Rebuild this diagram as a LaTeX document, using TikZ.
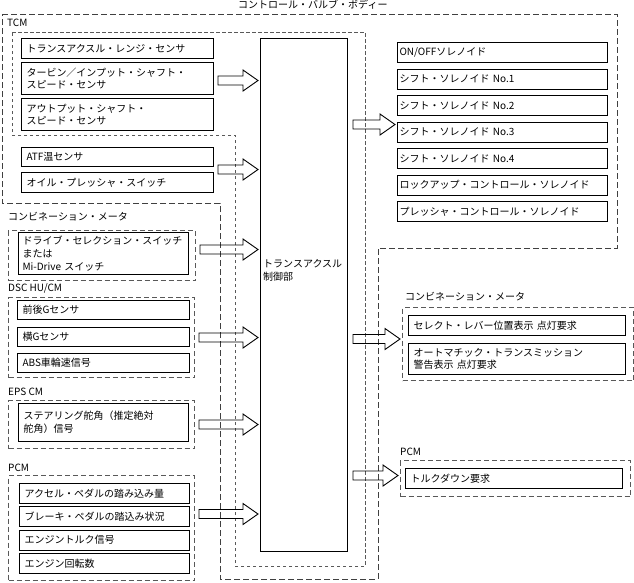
\documentclass[tikz,border=0pt]{standalone}
\usepackage{fontspec}
\newfontfamily\jpfont{Noto Sans CJK JP}
\usepackage{tikz}
\usetikzlibrary{calc,positioning}

\newcommand{\bigarrow}[2]{%
  \path (#1) coordinate (ba-s) (#2) coordinate (ba-t);
  \draw[line width=0.9pt,line join=miter]
    ($(ba-s)+(0,-4.5)$) -- ($(ba-t)+(-17,-4.5)$) -- ($(ba-t)+(-17,-10.5)$)
    -- ($(ba-t)+(-2,0)$) -- ($(ba-t)+(-17,10.5)$) -- ($(ba-t)+(-17,4.5)$)
    -- ($(ba-s)+(0,4.5)$) -- cycle;}

\begin{document}
\begin{tikzpicture}[x=1pt,y=-1pt,
    font=\jpfont\fontsize{10}{12.8}\selectfont,
    sbox/.style={draw,line width=1pt,anchor=north west,align=left,
      inner xsep=5pt,inner ysep=0pt,text width=#1},
    modbox/.style={draw=black!65,line width=1pt,dash pattern=on 5pt off 3pt,
      anchor=north west,inner sep=0pt},
    vbline/.style={draw=black!75,line width=1pt,dash pattern=on 6pt off 3pt},
    tcmline/.style={draw=black!65,line width=1pt,dash pattern=on 3.5pt off 2.5pt},
    lbl/.style={anchor=west,inner sep=0pt}]
    \useasboundingbox (0,0) rectangle (634,582);

    % valve body and TCM
    \draw[vbline] (2,14) -- (617,14) -- (617,248) -- (378,248) -- (378,579)
      -- (220,579) -- (220,203) -- (2,203) -- cycle;
    \draw[tcmline] (12,32) -- (365,32) -- (365,566) -- (235,566)
      -- (235,135) -- (12,135) -- cycle;
    \node[lbl] (vblbl) at (238,5) {コントロール・バルブ・ボディー};
    \node[lbl] (tcmlbl) at (7,23) {TCM};

    % control unit
    \node[draw,line width=1pt,anchor=north west,inner sep=0pt,
      minimum width=87,minimum height=513] (ctrl) at (260,38) {};
    \node[lbl,align=left] (ctrltxt) at (263,270) {トランスアクスル\\制御部};

    % TCM sensors
    \node[sbox=182pt,minimum height=20] (tr) at (21,38) {トランスアクスル・レンジ・センサ};
    \node[sbox=182pt,minimum height=32] (tss) at (21,62) {タービン／インプット・シャフト・\\スピード・センサ};
    \node[sbox=182pt,minimum height=32] (oss) at (21,98) {アウトプット・シャフト・\\スピード・センサ};
    \node[sbox=182pt,minimum height=19] (atf) at (21,147) {ATF温センサ};
    \node[sbox=182pt,minimum height=20] (ops) at (21,172) {オイル・プレッシャ・スイッチ};

    % combination meter (in)
    \node[lbl] (meterLlbl) at (8,217) {コンビネーション・メータ};
    \node[modbox,minimum width=187,minimum height=50] (meterL) at (8,230) {};
    \node[sbox=162pt,inner xsep=4pt,minimum height=42] (dss) at (18,232)
      {ドライブ・セレクション・スイッチ\\または\\Mi-Drive スイッチ};

    % DSC HU/CM
    \node[lbl] (dsclbl) at (8,288) {DSC HU/CM};
    \node[modbox,minimum width=186,minimum height=80] (dsc) at (8,297) {};
    \foreach \t [count=\i] in {前後Gセンサ,横Gセンサ,ABS車輪速信号}
    {
      \node[sbox=162pt,minimum height=19] (dsc\i) at (17,{300+26.5*(\i-1)}) {\t};
    }

    % EPS CM
    \node[lbl] (epslbl) at (8,392) {EPS CM};
    \node[modbox,minimum width=186,minimum height=48] (eps) at (8,400) {};
    \node[sbox=160pt,minimum height=38] (sas) at (18,403) {ステアリング舵角（推定絶対\\舵角）信号};

    % PCM (in)
    \node[lbl] (pcmLlbl) at (8,468) {PCM};
    \node[modbox,minimum width=186,minimum height=105] (pcmL) at (8,475) {};
    \foreach \t [count=\i] in {アクセル・ペダルの踏み込み量,ブレーキ・ペダルの踏込み状況,エンジントルク信号,エンジン回転数}
    {
      \node[sbox=160pt,minimum height=20] (pcmL\i) at (19,{483+23.3*(\i-1)}) {\t};
    }

    % solenoids
    \foreach \t [count=\i] in {ON/OFFソレノイド,シフト・ソレノイド No.1,シフト・ソレノイド No.2,シフト・ソレノイド No.3,シフト・ソレノイド No.4,ロックアップ・コントロール・ソレノイド,プレッシャ・コントロール・ソレノイド}
    {
      \node[sbox=206pt,inner xsep=2pt,minimum height=20] (sol\i) at (397,{42+26.5*(\i-1)}) {\t};
    }

    % combination meter (out)
    \node[lbl] (meterRlbl) at (405,297) {コンビネーション・メータ};
    \node[modbox,minimum width=231,minimum height=73] (meterR) at (402,307) {};
    \node[sbox=207pt,minimum height=20] (selreq) at (408,315) {セレクト・レバー位置表示 点灯要求};
    \node[sbox=207pt,minimum height=31] (atwarn) at (408,343) {オートマチック・トランスミッション\\警告表示 点灯要求};

    % PCM (out)
    \node[lbl] (pcmRlbl) at (400,452) {PCM};
    \node[modbox,minimum width=230,minimum height=36] (pcmR) at (400,460) {};
    \node[sbox=207pt,minimum height=20] (tdreq) at (405,468) {トルクダウン要求};

    % arrows
    \coordinate (iTCM) at ($(tss.east)+(4,2)$);
    \coordinate (iVB) at ($(atf.south east)!.5!(ops.north east)+(4,0)$);
    \coordinate (iMeter) at ($(meterL.east)+(4,-6)$);
    \coordinate (iDSC) at ($(dsc.east)+(4,0)$);
    \coordinate (iEPS) at ($(eps.east)+(4,0)$);
    \coordinate (iPCM) at ($(pcmL.east)+(4,-14)$);
    \coordinate (oSol) at ($(ctrl.east |- sol4.north)+(5,3)$);
    \coordinate (oMeter) at ($(ctrl.east |- meterR.east)+(5,-5)$);
    \coordinate (oPCM) at ($(ctrl.east |- pcmR.east)+(5,-3)$);
    \bigarrow{iTCM}{ctrl.west |- iTCM}
    \bigarrow{iVB}{ctrl.west |- iVB}
    \bigarrow{iMeter}{ctrl.west |- iMeter}
    \bigarrow{iDSC}{ctrl.west |- iDSC}
    \bigarrow{iEPS}{ctrl.west |- iEPS}
    \bigarrow{iPCM}{ctrl.west |- iPCM}
    \bigarrow{oSol}{sol1.west |- oSol}
    \bigarrow{oMeter}{meterR.west |- oMeter}
    \bigarrow{oPCM}{pcmR.west |- oPCM}
  \end{tikzpicture}
\end{document}
